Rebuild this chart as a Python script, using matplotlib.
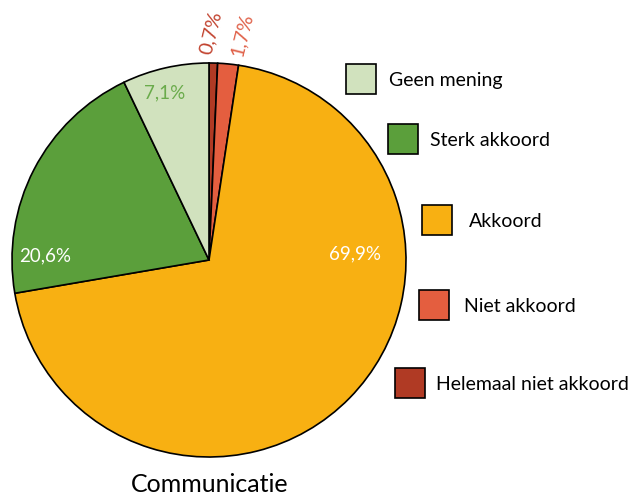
import matplotlib
matplotlib.use("Agg")
import matplotlib.pyplot as plt
from matplotlib.patches import Rectangle

# data, clockwise from the top
categories = ["Helemaal niet akkoord", "Niet akkoord", "Akkoord", "Sterk akkoord", "Geen mening"]
values = [0.7, 1.7, 69.9, 20.6, 7.1]
labels = ["0,7%", "1,7%", "69,9%", "20,6%", "7,1%"]
colors = ["#b03a24", "#e45e3f", "#f8b012", "#5b9f3b", "#d1e2be"]
title = "Communicatie"

# legend order top->bottom
legend_order = ["Geen mening", "Sterk akkoord", "Akkoord", "Niet akkoord", "Helemaal niet akkoord"]

plt.rcParams['font.family'] = ['Lato', 'DejaVu Sans']

W, H = 635, 499
fig = plt.figure(figsize=(W / 100, H / 100), dpi=100)
ax = fig.add_axes([0, 0, 1, 1])

cx, cy, r = 209, H - 260, 197
ax.pie(values, colors=colors, startangle=90, counterclock=False,
       center=(cx, cy), radius=r, frame=True,
       wedgeprops=dict(edgecolor='black', linewidth=1.2))
ax.set_xlim(0, W)
ax.set_ylim(0, H)
ax.set_aspect('equal')
ax.axis('off')

# percentage labels
ax.text(cx + 146, cy + 6, labels[2], color='white', fontsize=13.5, ha='center', va='center')
ax.text(cx - 164, cy + 4, labels[3], color='white', fontsize=13.5, ha='center', va='center')
ax.text(cx - 44, cy + 167, labels[4], color='#6aab4b', fontsize=13.5, ha='center', va='center')
ax.text(211, H - 33, labels[0], color='#c2432f', fontsize=14.5, rotation=76,
        ha='center', va='center')
ax.text(242, H - 35, labels[1], color='#e0624a', fontsize=14.5, rotation=76,
        ha='center', va='center')

# legend boxes, staggered
box_x = [346, 388, 422, 419, 395]
box_y = [64, 124, 205, 290, 368]
text_x = [389, 430, 469, 464, 436]
for name, bx, by, tx in zip(legend_order, box_x, box_y, text_x):
    c = colors[categories.index(name)]
    ax.add_patch(Rectangle((bx, H - by - 30), 30, 30, facecolor=c,
                           edgecolor='black', linewidth=1.2))
    ax.text(tx, H - by - 16, name, fontsize=14, color='black', ha='left', va='center')

ax.text(210, H - 484, title, fontsize=18, color='black', ha='center', va='center')

fig.savefig("out.png", dpi=100)
